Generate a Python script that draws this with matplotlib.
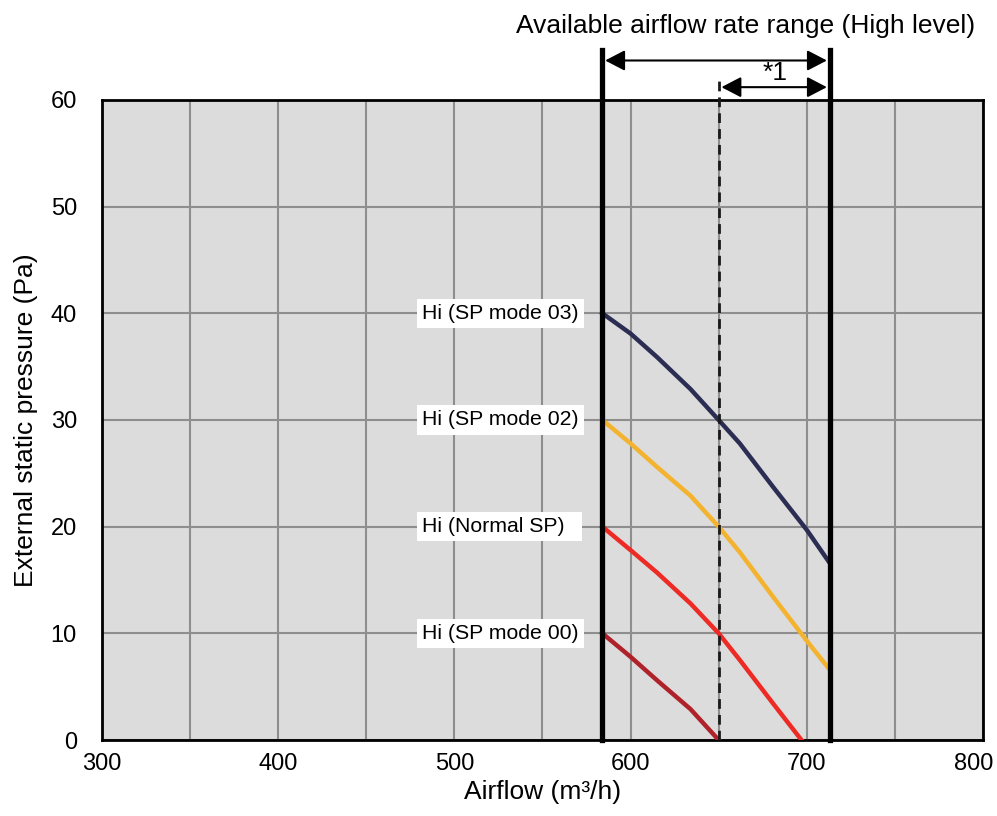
import matplotlib
matplotlib.use("Agg")
import matplotlib.pyplot as plt
import matplotlib.transforms as mtransforms
from matplotlib.ticker import MultipleLocator

plt.rcParams['font.family'] = ['Liberation Sans', 'DejaVu Sans']

# Data
mode03_x = [584, 600, 615, 634, 650, 662, 681, 700, 713]
mode03_y = [40, 38.1, 35.9, 32.9, 30, 27.8, 23.7, 19.7, 16.6]
mode02_x = [584, 600, 615, 634, 650, 662, 681, 700, 713]
mode02_y = [30, 27.8, 25.6, 22.9, 20, 17.6, 13.4, 9.3, 6.6]
normal_x = [584, 600, 615, 634, 650, 662, 681, 697]
normal_y = [20, 17.8, 15.7, 12.8, 10, 7.5, 3.4, 0]
mode00_x = [584, 600, 615, 634, 650]
mode00_y = [10, 7.8, 5.6, 2.9, 0]
labels = ["Hi (SP mode 03)", "Hi (SP mode 02)", "Hi (Normal SP)  ", "Hi (SP mode 00)"]
label_y = [40, 30, 20, 10]
range_min, range_max, range_mid = 584, 713, 650
x_ticks = [300, 400, 500, 600, 700, 800]
y_ticks = [0, 10, 20, 30, 40, 50, 60]

fig = plt.figure(figsize=(9.97, 8.16), dpi=100)
ax = fig.add_axes([0.1023, 0.0931, 0.8836, 0.7844])
ax.set_facecolor('#dcdcdc')
ax.set_xlim(300, 800)
ax.set_ylim(0, 60)
ax.set_xticks(x_ticks)
ax.set_yticks(y_ticks)
ax.xaxis.set_minor_locator(MultipleLocator(50))
ax.grid(True, which='both', color='#8e8e8e', linewidth=1.5)
ax.set_axisbelow(True)
ax.tick_params(which='both', length=0)
ax.tick_params(axis='x', pad=9, labelsize=17)
ax.tick_params(axis='y', pad=18, labelsize=17)
for s in ax.spines.values():
    s.set_linewidth(2)
    s.set_color('black')

# shift last x tick label left so it fits inside the figure
last = ax.get_xticklabels()[-1]
last.set_transform(last.get_transform() + mtransforms.ScaledTranslation(-9 / 100, 0, fig.dpi_scale_trans))

ax.set_xlabel("Airflow (m³/h)", fontsize=19, labelpad=4)
ax.set_ylabel("External static pressure (Pa)", fontsize=19, labelpad=9)

lw = 3.2
for xs, ys, c in [(mode03_x, mode03_y, '#2b2d52'), (mode02_x, mode02_y, '#f4b32f'),
                  (normal_x, normal_y, '#ee2a24'), (mode00_x, mode00_y, '#b0222a')]:
    ax.plot(xs, ys, color=c, lw=lw, zorder=3, solid_joinstyle='round')

for t, yv in zip(labels, label_y):
    ax.text(481.6, yv, t, ha='left', va='center', fontsize=15.3,
            bbox=dict(facecolor='white', edgecolor='none', pad=3.8), zorder=4)

# range lines
ax.plot([range_min, range_min], [0, 64.7], color='black', lw=3.8, clip_on=False, zorder=5)
ax.plot([range_max, range_max], [0, 64.7], color='black', lw=3.8, clip_on=False, zorder=5)
ax.plot([range_mid, range_mid], [0, 62.3], color='#1a1a1a', lw=2.0, ls=(0, (3.5, 2.2)), clip_on=False, zorder=5)

arrow_kw = dict(arrowstyle='<|-|>,head_length=0.48,head_width=0.25', color='black', lw=1.5,
                mutation_scale=25, shrinkA=2, shrinkB=2)
ax.annotate('', xy=(range_min, 63.7), xytext=(range_max, 63.7),
            arrowprops=arrow_kw, annotation_clip=False)
ax.annotate('', xy=(range_mid, 61.2), xytext=(range_max, 61.2),
            arrowprops=arrow_kw, annotation_clip=False)
ax.text(682, 62.5, "*1", ha='center', va='center', fontsize=19)
ax.text(665.5, 66.9, "Available airflow rate range (High level)", ha='center', va='center', fontsize=19)

fig.savefig('out.png', dpi=100)
